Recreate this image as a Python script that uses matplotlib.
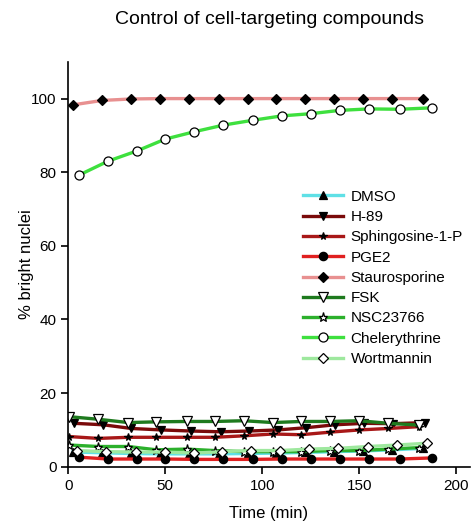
import matplotlib
matplotlib.use("Agg")
import matplotlib.pyplot as plt

plt.rcParams['font.family'] = ['Liberation Sans', 'DejaVu Sans']

# time points (min) for each well
t_a = [0.5, 15.5, 31, 45.5, 61, 75.5, 90.5, 105.5, 120, 135, 150, 165, 181]
t_b = [2.5, 17.5, 32.5, 47.5, 62.5, 77.5, 92.5, 107, 122, 137, 152, 167, 183]
t_c = [3, 18, 32.5, 48, 63.5, 78.5, 93, 108, 122.5, 137.5, 152.5, 167.5, 184]
t_d = [5.5, 20.5, 35.5, 50, 65, 80, 95, 110, 125, 140, 155, 171, 187.5]
t_e = [4.5, 19.5, 35, 50, 65, 79.5, 94, 109, 124, 139, 154.5, 169.5, 185]

dmso = [4.0, 3.8, 3.6, 3.5, 3.5, 3.5, 3.6, 3.7, 3.9, 4.1, 4.3, 4.6, 5.0]
h89 = [11.8, 11.4, 10.4, 10.0, 9.7, 9.5, 9.7, 10.0, 10.6, 11.4, 11.8, 11.7, 12.0]
s1p = [8.2, 7.7, 8.0, 8.0, 8.0, 8.0, 8.4, 8.9, 8.7, 9.4, 10.0, 10.4, 10.9]
pge2 = [2.6, 2.1, 2.1, 2.1, 2.0, 2.0, 2.0, 2.1, 2.1, 2.1, 2.1, 2.1, 2.4]
stauro = [98.3, 99.5, 99.9, 100, 100, 100, 100, 100, 100, 100, 100, 100, 100]
fsk = [13.6, 12.9, 12.0, 12.2, 12.3, 12.3, 12.5, 12.0, 12.3, 12.3, 12.5, 11.8, 11.3]
nsc = [5.9, 5.5, 5.5, 4.6, 4.8, 4.4, 4.1, 4.1, 4.1, 4.4, 4.4, 4.8, 5.2]
chel = [79.2, 83.0, 85.8, 89.0, 91.0, 92.8, 94.1, 95.3, 95.9, 96.8, 97.2, 97.1, 97.5]
wort = [4.4, 4.1, 4.0, 4.0, 3.7, 4.1, 4.4, 4.4, 4.8, 5.0, 5.5, 5.9, 6.4]

fig = plt.figure(figsize=(4.77, 5.28), dpi=100)
ax = fig.add_axes([0.143, 0.116, 0.842, 0.767])

# name, times, values, line colour, marker, marker face, marker size
series = [
    ("DMSO", t_b, dmso, "#5fe0e6", "^", "black", 5.5),
    ("H-89", t_c, h89, "#7a0a0a", "v", "black", 5.5),
    ("Sphingosine-1-P", t_a, s1p, "#a81818", "*", "black", 5.5),
    ("PGE2", t_d, pge2, "#e02020", "o", "black", 6),
    ("Staurosporine", t_b, stauro, "#e89090", "D", "black", 5),
    ("FSK", t_a, fsk, "#1e7a1e", "v", "white", 6.5),
    ("NSC23766", t_a, nsc, "#2cb02c", "*", "white", 6.5),
    ("Chelerythrine", t_d, chel, "#3ee03e", "o", "white", 6.5),
    ("Wortmannin", t_e, wort, "#9ee89e", "D", "white", 5.5),
]

for name, t, v, col, mk, face, ms in series:
    ax.plot(t, v, color=col, lw=2.4, marker=mk, markerfacecolor=face,
            markeredgecolor="black", markeredgewidth=0.9, markersize=ms, label=name)

ax.set_xlim(0, 207)
ax.set_ylim(0, 110)
ax.set_xticks([0, 50, 100, 150, 200])
ax.set_yticks([0, 20, 40, 60, 80, 100])
ax.spines['top'].set_visible(False)
ax.spines['right'].set_visible(False)
ax.spines['left'].set_linewidth(1.2)
ax.spines['bottom'].set_linewidth(1.2)
ax.tick_params(direction='out', length=5, width=1.2, labelsize=11)
ax.set_xlabel("Time (min)", fontsize=12, labelpad=10)
ax.set_ylabel("% bright nuclei", fontsize=12, labelpad=-2)
ax.set_title("Control of cell-targeting compounds", fontsize=14, pad=27)

ax.legend(loc="upper left", bbox_to_anchor=(0.62, 0.655), bbox_transform=fig.transFigure,
          frameon=False, fontsize=11, handlelength=2.6, handletextpad=0.5,
          labelspacing=0.41, borderpad=0)

fig.savefig("out.png", dpi=100)
